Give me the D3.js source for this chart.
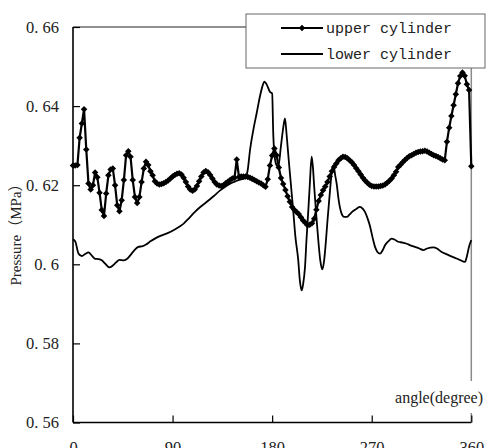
<!DOCTYPE html>
<html>
<head>
<meta charset="utf-8">
<script src="https://cdn.jsdelivr.net/npm/d3@7"></script>
<style>
	body { margin: 0; background: #fff; }
	svg { display: block; }
</style>
</head>
<body>
<div id="chart"></div>
<script>
// Data ///////////////////////////////////////////////////////////////////////

// upper cylinder: one value every 2 degrees, 0..360
const upperStep = 2;
const upperValues = [
	0.6250, 0.6250, 0.6251, 0.6320, 0.6356, 0.6392, 0.6290, 0.6204, 0.6189, 0.6200,
	0.6232, 0.6220, 0.6181, 0.6137, 0.6122, 0.6179, 0.6225, 0.6240, 0.6242, 0.6200,
	0.6149, 0.6134, 0.6162, 0.6213, 0.6276, 0.6286, 0.6272, 0.6213, 0.6170, 0.6155,
	0.6170, 0.6208, 0.6242, 0.6259, 0.6251, 0.6235, 0.6225, 0.6210, 0.6204, 0.6202,
	0.6203, 0.6205, 0.6208, 0.6212, 0.6217, 0.6222, 0.6226, 0.6229, 0.6230, 0.6227,
	0.6219, 0.6208, 0.6197, 0.6189, 0.6186, 0.6189, 0.6198, 0.6210, 0.6222, 0.6232,
	0.6236, 0.6233, 0.6226, 0.6217, 0.6208, 0.6202, 0.6199, 0.6198, 0.6200, 0.6205,
	0.6209, 0.6213, 0.6217, 0.6219, 0.6265, 0.6221, 0.6222, 0.6222, 0.6222, 0.6221,
	0.6219, 0.6216, 0.6213, 0.6210, 0.6207, 0.6204, 0.6200, 0.6196, 0.6215, 0.6250,
	0.6275, 0.6293, 0.6276, 0.6245, 0.6218, 0.6203, 0.6188, 0.6172, 0.6158, 0.6145,
	0.6138, 0.6132, 0.6127, 0.6119, 0.6111, 0.6105, 0.6099, 0.6100, 0.6104, 0.6115,
	0.6138, 0.6160, 0.6175, 0.6187, 0.6197, 0.6208, 0.6222, 0.6235, 0.6246, 0.6255,
	0.6263, 0.6268, 0.6272, 0.6271, 0.6268, 0.6263, 0.6258, 0.6251, 0.6243, 0.6235,
	0.6227, 0.6219, 0.6212, 0.6206, 0.6201, 0.6198, 0.6197, 0.6197, 0.6197, 0.6198,
	0.6199, 0.6202, 0.6206, 0.6211, 0.6217, 0.6225, 0.6234, 0.6246, 0.6252, 0.6258,
	0.6264, 0.6269, 0.6273, 0.6276, 0.6279, 0.6282, 0.6284, 0.6285, 0.6286, 0.6287,
	0.6285, 0.6282, 0.6279, 0.6276, 0.6274, 0.6271, 0.6268, 0.6265, 0.6263, 0.6310,
	0.6345, 0.6375, 0.6402, 0.6430, 0.6458, 0.6476, 0.6485, 0.6477, 0.6455, 0.6441,
	0.6248
];

// lower cylinder: [angle, pressure]
const lowerPoints = [
	[0, 0.6063], [2, 0.6058], [5, 0.6027], [8, 0.6021], [11, 0.6026], [14, 0.6030],
	[17, 0.6022], [20, 0.6014], [23, 0.6013], [26, 0.6010], [29, 0.6002], [33, 0.5992],
	[36, 0.5997], [39, 0.6005], [42, 0.6011], [46, 0.6010], [49, 0.6014], [53, 0.6027],
	[56, 0.6037], [59, 0.6044], [63, 0.6046], [66, 0.6050], [70, 0.6058], [74, 0.6065],
	[79, 0.6072], [85, 0.6078], [92, 0.6088], [100, 0.6103], [105, 0.6117], [110, 0.6132],
	[115, 0.6145], [121, 0.6158], [127, 0.6172], [133, 0.6187], [138, 0.6197], [142, 0.6204],
	[147, 0.6210], [151, 0.6214], [156, 0.6219], [158, 0.6240], [160, 0.6289], [163, 0.6340],
	[166, 0.6382], [169, 0.6425], [171, 0.6448], [173, 0.6462], [175, 0.6455], [178, 0.6436],
	[180, 0.6432], [181, 0.6330], [182, 0.6280], [184, 0.6250], [185.5, 0.6246], [188, 0.6300],
	[190, 0.6345], [191.6, 0.6369], [193, 0.6330], [195, 0.6263], [197, 0.6200], [199, 0.6137],
	[201, 0.6070], [203.6, 0.6010], [205, 0.5960], [206.7, 0.5934], [208, 0.5950], [209.7, 0.5993],
	[211, 0.6060], [212.7, 0.6137], [214, 0.6200], [215.7, 0.6272], [217, 0.6240], [218, 0.6196],
	[220, 0.6120], [221.7, 0.6061], [223.5, 0.6010], [225.3, 0.5987], [227, 0.6010], [228.4, 0.6052],
	[230, 0.6110], [232.3, 0.6187], [234, 0.6235], [235.3, 0.6251], [237, 0.6225], [238.3, 0.6204],
	[240, 0.6165], [242.8, 0.6128], [245, 0.6120], [247.4, 0.6120], [250, 0.6126], [252, 0.6132],
	[256, 0.6140], [259.4, 0.6145], [262, 0.6140], [264, 0.6132], [266, 0.6118], [268.4, 0.6097],
	[271, 0.6065], [273, 0.6044], [275, 0.6032], [277.5, 0.6027], [280, 0.6036], [282, 0.6048],
	[285, 0.6058], [288, 0.6065], [291, 0.6062], [294, 0.6057], [298, 0.6055], [301.6, 0.6052],
	[305, 0.6048], [309, 0.6044], [313, 0.6040], [316.6, 0.6036], [320, 0.6040], [325.7, 0.6043],
	[329, 0.6040], [333.2, 0.6031], [338, 0.6025], [343.7, 0.6018], [349, 0.6012], [354.3, 0.6006],
	[356, 0.6020], [358, 0.6045], [360, 0.6061]
];

const xTicks = [0, 90, 180, 270, 360];
const yTicks = [0.56, 0.58, 0.6, 0.62, 0.64, 0.66];
const seriesNames = ["upper cylinder", "lower cylinder"];

// Set up /////////////////////////////////////////////////////////////////////

const width = 486,
			height = 448;
const plot = { left: 73, right: 471.3, top: 27, bottom: 422.5 };

const svg = d3.select("#chart").append("svg")
		.attr("width", width)
		.attr("height", height);

const x = d3.scaleLinear().domain([0, 360]).range([plot.left, plot.right]);
const y = d3.scaleLinear().domain([0.56, 0.66]).range([plot.bottom, plot.top]);

const upper = upperValues.map((v, i) => [i * upperStep, v]);

// rotated square marker
const diamond = {
	draw(ctx, size) {
		const r = Math.sqrt(size) * 0.62625;
		ctx.moveTo(0, -r);
		ctx.lineTo(r, 0);
		ctx.lineTo(0, r);
		ctx.lineTo(-r, 0);
		ctx.closePath();
	}
};
const markerSize = 27;

// Frame //////////////////////////////////////////////////////////////////////

// right border (gray)
svg.append("line")
		.attr("x1", x(360)).attr("x2", x(360))
		.attr("y1", plot.top).attr("y2", plot.bottom)
		.attr("stroke", "#8a8a8a")
		.attr("stroke-width", 1.5);

// top border
svg.append("line")
		.attr("x1", plot.left).attr("x2", x(360))
		.attr("y1", plot.top).attr("y2", plot.top)
		.attr("stroke", "#222")
		.attr("stroke-width", 1.2);

const fmt = d => String(d).replace(".", ". ");

const yAxis = svg.append("g")
		.attr("transform", `translate(${plot.left},0)`)
		.call(d3.axisLeft(y).tickValues(yTicks).tickSize(-7).tickPadding(14).tickFormat(fmt));
const xAxis = svg.append("g")
		.attr("transform", `translate(0,${plot.bottom})`)
		.call(d3.axisBottom(x).tickValues(xTicks).tickSize(-7).tickPadding(19).tickFormat(d3.format("d")));

[yAxis, xAxis].forEach(g => {
	g.select(".domain").attr("stroke", "#000").attr("stroke-width", 1.6);
	g.selectAll(".tick line").attr("stroke", "#000").attr("stroke-width", 1.2);
	g.selectAll(".tick text")
			.attr("fill", "#222")
			.style("font-family", "'Liberation Serif', 'DejaVu Serif', serif")
			.style("font-size", "16.5px");
});
yAxis.select(".domain").attr("d", `M0,${plot.bottom}V${plot.top}`);
xAxis.select(".domain").attr("d", `M${plot.left},0H${plot.right}`);

// Lines //////////////////////////////////////////////////////////////////////

svg.append("path")
		.datum(lowerPoints)
		.attr("fill", "none")
		.attr("stroke", "#000")
		.attr("stroke-width", 1.8)
		.attr("stroke-linejoin", "round")
		.attr("d", d3.line()
			.x(d => x(d[0]))
			.y(d => y(d[1]))
			.curve(d3.curveMonotoneX));

svg.append("path")
		.datum(upper)
		.attr("fill", "none")
		.attr("stroke", "#000")
		.attr("stroke-width", 2.2)
		.attr("stroke-linejoin", "round")
		.attr("d", d3.line()
			.x(d => x(d[0]))
			.y(d => y(d[1])));

svg.append("g")
	.selectAll("path")
	.data(upper)
	.enter().append("path")
		.attr("transform", d => `translate(${x(d[0])},${y(d[1])})`)
		.attr("d", d3.symbol().type(diamond).size(markerSize))
		.attr("fill", "#000");

// Axis titles ////////////////////////////////////////////////////////////////

svg.append("rect")
		.attr("x", 384).attr("y", 381)
		.attr("width", 102).attr("height", 32)
		.attr("fill", "#fff");
svg.append("text")
		.attr("x", 483).attr("y", 403)
		.attr("text-anchor", "end")
		.style("font-family", "'Liberation Serif', 'DejaVu Serif', serif")
		.style("font-size", "16px")
		.attr("fill", "#222")
		.text("angle(degree)");

svg.append("text")
		.attr("transform", "translate(21,231) rotate(-90)")
		.attr("text-anchor", "middle")
		.style("font-family", "'Liberation Serif', 'Noto Sans CJK SC', serif")
		.style("font-size", "15px")
		.attr("fill", "#222")
		.text("Pressure（MPa）");

// Legend /////////////////////////////////////////////////////////////////////

const legend = svg.append("g");
legend.append("rect")
		.attr("x", 246).attr("y", 14)
		.attr("width", 239).attr("height", 54)
		.attr("fill", "#fff")
		.attr("stroke", "#666")
		.attr("stroke-width", 1);

const rows = legend.selectAll("g")
	.data(seriesNames)
	.enter().append("g")
		.attr("transform", (d, i) => `translate(0,${28 + i * 26})`);
rows.append("line")
		.attr("x1", 281).attr("x2", 323)
		.attr("stroke", "#000")
		.attr("stroke-width", 2);
rows.filter((d, i) => i === 0).append("path")
		.attr("transform", "translate(302,0)")
		.attr("d", d3.symbol().type(diamond).size(markerSize))
		.attr("fill", "#000");
rows.append("text")
		.attr("x", 326)
		.attr("y", 1)
		.attr("dominant-baseline", "central")
		.style("font-family", "'Liberation Mono', 'DejaVu Sans Mono', monospace")
		.style("font-size", "15px")
		.attr("fill", "#222")
		.text(d => d);
</script>
</body>
</html>
